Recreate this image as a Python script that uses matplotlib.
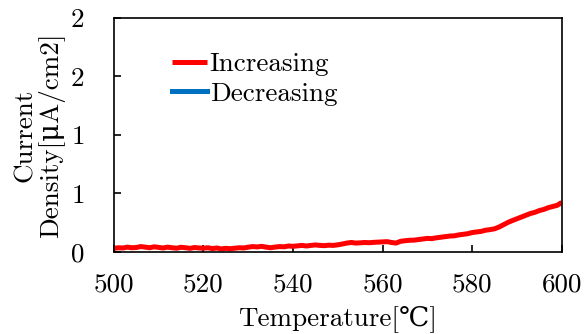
import matplotlib
matplotlib.use("Agg")
import matplotlib.pyplot as plt
from matplotlib.ticker import FixedLocator, FixedFormatter

plt.rcParams['font.family'] = ['cmr10', 'DejaVu Serif', 'DejaVu Sans']

temperature = list(range(500, 601))
increasing = [
    0.030, 0.035, 0.033, 0.040, 0.035, 0.037, 0.045, 0.040, 0.035, 0.043,
    0.038, 0.033, 0.040, 0.035, 0.031, 0.039, 0.035, 0.030, 0.037, 0.033,
    0.031, 0.035, 0.028, 0.033, 0.025, 0.030, 0.027, 0.031, 0.035, 0.033,
    0.040, 0.045, 0.042, 0.047, 0.040, 0.035, 0.041, 0.045, 0.043, 0.050,
    0.047, 0.051, 0.055, 0.050, 0.055, 0.059, 0.055, 0.053, 0.057, 0.055,
    0.060, 0.067, 0.075, 0.080, 0.075, 0.077, 0.080, 0.078, 0.081, 0.083,
    0.085, 0.087, 0.080, 0.075, 0.090, 0.095, 0.099, 0.100, 0.105, 0.110,
    0.115, 0.113, 0.120, 0.125, 0.130, 0.135, 0.137, 0.145, 0.150, 0.155,
    0.165, 0.170, 0.175, 0.185, 0.190, 0.197, 0.212, 0.232, 0.252, 0.268,
    0.283, 0.298, 0.313, 0.328, 0.338, 0.353, 0.363, 0.378, 0.388, 0.398,
    0.423,
]
decreasing_T = []
decreasing = []

xticks = [500, 520, 540, 560, 580, 600]
yticks = [0, 0.5, 1.0, 1.5, 2.0]
ytick_labels = ["0", "1", "1", "2", "2"]

fig = plt.figure(figsize=(5.87, 3.34), dpi=100)
ax = fig.add_axes([0.194, 0.246, 0.763, 0.700])

ax.plot(temperature, increasing, color='#ff0000', lw=3.6, label='Increasing',
        solid_capstyle='butt')
ax.plot(decreasing_T, decreasing, color='#0070c0', lw=3.6, label='Decreasing')

ax.set_xlim(500, 600)
ax.set_ylim(0, 2)
ax.xaxis.set_major_locator(FixedLocator(xticks))
ax.yaxis.set_major_locator(FixedLocator(yticks))
ax.yaxis.set_major_formatter(FixedFormatter(ytick_labels))
ax.tick_params(direction='in', length=5, width=1.2, labelsize=19.5)
ax.tick_params(axis='x', pad=15)
ax.tick_params(axis='y', pad=21)
ax.tick_params(top=False, right=False)
for s in ax.spines.values():
    s.set_linewidth(1.2)

ax.set_xlabel('Temperature[℃]', fontsize=19.5, labelpad=6)
ax.set_ylabel('Current\nDensity[μA/cm2]', fontsize=19.5, labelpad=4, linespacing=1.1)

leg = ax.legend(loc='upper left', bbox_to_anchor=(0.105, 0.90), frameon=False,
                fontsize=19.5, handlelength=1.3, handletextpad=0.1,
                labelspacing=0.2, borderaxespad=0)

fig.savefig('out.png', dpi=100)
